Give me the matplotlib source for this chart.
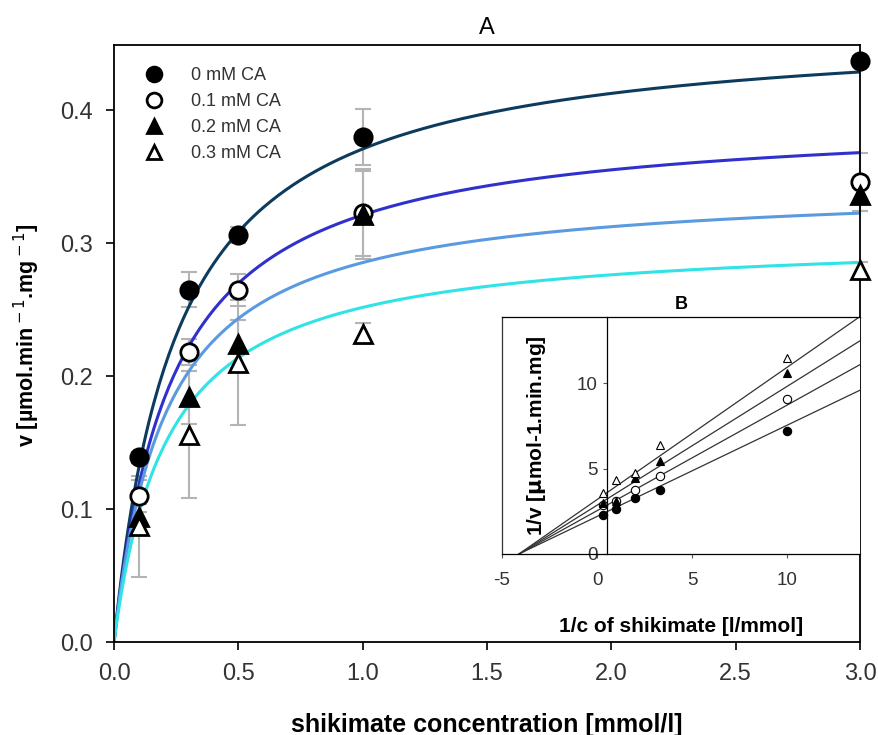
import numpy as np
import matplotlib.pyplot as plt

plt.rcParams['font.family'] = ['Liberation Sans', 'DejaVu Sans']
plt.rcParams['axes.unicode_minus'] = False

# shikimate concentration [mmol/l]
shikimate = np.array([0.1, 0.3, 0.5, 1.0, 3.0])
labels = ['0 mM CA', '0.1 mM CA', '0.2 mM CA', '0.3 mM CA']

# measured rates v [umol/min/mg]
v_0 = np.array([0.139, 0.265, 0.306, 0.380, 0.437])
v_01 = np.array([0.110, 0.218, 0.265, 0.323, 0.346])
v_02 = np.array([0.094, 0.184, 0.224, 0.321, 0.336])
v_03 = np.array([0.087, 0.156, 0.210, 0.232, 0.280])

# standard deviations
err_0 = [0.004, 0.013, 0.006, 0.021, 0.004]
err_01 = [0.012, 0.010, 0.012, 0.033, 0.022]
err_02 = [0.010, 0.020, 0.018, 0.033, 0.012]
err_03 = [0.038, 0.048, 0.047, 0.008, 0.006]

# michaelis-menten fit parameters
vmax = [0.465, 0.397, 0.345, 0.306]
km = [0.254, 0.236, 0.209, 0.216]

# lineweaver-burk regression lines (slope, intercept)
lb_slope = [0.536, 0.620, 0.698, 0.777]
lb_intercept = [2.20, 2.54, 2.86, 3.19]

rates = [v_0, v_01, v_02, v_03]
errors = [err_0, err_01, err_02, err_03]
curve_colors = ['#0c3b5e', '#3030cc', '#5a9ae0', '#2fe3e6']
markers = ['o', 'o', '^', '^']
faces = ['black', 'white', 'black', 'white']

fig = plt.figure(figsize=(8.79, 7.35), dpi=100)
ax = fig.add_axes([0.1297, 0.1265, 0.8487, 0.8123])

# error bars
for v, e in zip(rates, errors):
    ax.errorbar(shikimate, v, yerr=e, fmt='none', ecolor='#b4b4b4',
                elinewidth=1.5, capsize=5.5, capthick=1.5, zorder=1, clip_on=False)

# fitted curves
s = np.linspace(0, 3.0, 300)
for vm, k, c in zip(vmax, km, curve_colors):
    ax.plot(s, vm * s / (k + s), color=c, lw=2.2, zorder=2)

# data points
for v, m, f, lab in zip(rates, markers, faces, labels):
    ax.plot(shikimate, v, linestyle='none', marker=m, markersize=12.5,
            markerfacecolor=f, markeredgecolor='black', markeredgewidth=2,
            label=lab, zorder=3, clip_on=False)

ax.set_xlim(0, 3.0)
ax.set_ylim(0, 0.449)
ax.set_xticks(np.arange(0, 3.01, 0.5))
ax.set_xticklabels(['0.0', '0.5', '1.0', '1.5', '2.0', '2.5', '3.0'])
ax.set_yticks([0, 0.1, 0.2, 0.3, 0.4])
ax.set_yticklabels(['0.0', '0.1', '0.2', '0.3', '0.4'])
ax.tick_params(labelsize=17, length=6, width=1.2, colors='black', labelcolor='#333333', pad=9)
for sp in ax.spines.values():
    sp.set_linewidth(1.3)
ax.set_title('A', fontsize=17, pad=8)
ax.set_xlabel('shikimate concentration [mmol/l]', fontsize=18, fontweight='bold', labelpad=20)
ax.set_ylabel(r'v [µmol.min$^{\rm -1}$.mg$^{\rm -1}$]', fontsize=15.5, fontweight='bold')
ax.yaxis.set_label_coords(-0.097, 0.514)
ax.legend(loc='upper left', bbox_to_anchor=(0.012, 0.99), frameon=False, fontsize=13,
          handlelength=1.6, handletextpad=1.25, labelspacing=0.5, markerscale=0.85,
          labelcolor='#333333')

# inset B: lineweaver-burk plot
axb = fig.add_axes([0.571, 0.2463, 0.407, 0.3224])
inv_c = 1 / shikimate
for v, m, f in zip(rates, markers, faces):
    axb.plot(inv_c, 1 / v, linestyle='none', marker=m, markersize=6,
             markerfacecolor=f, markeredgecolor='black', markeredgewidth=0.8, zorder=3)
xr = 13.8
for m, b in zip(lb_slope, lb_intercept):
    x0 = -b / m
    axb.plot([x0, xr], [0, m * xr + b], color='#333333', lw=0.9, zorder=2)

axb.set_xlim(-5, xr)
axb.set_ylim(0, 13.9)
axb.spines['left'].set_position(('data', 0.5))
axb.spines['left'].set_linewidth(0.9)
axb.spines['bottom'].set_linewidth(0.9)
axb.spines['top'].set_linewidth(0.9)
axb.spines['right'].set_visible(False)
axb.plot([0, 0], [0, 1], transform=axb.transAxes, color='#333333', lw=0.9, clip_on=False)
axb.set_xticks([-5, 0, 5, 10])
axb.set_yticks([0, 5, 10])
axb.tick_params(labelsize=13.5, length=3, width=0.8, labelcolor='#333333', color='#555555')
axb.tick_params(axis='x', pad=10)
axb.set_title('B', fontsize=13, fontweight='bold', pad=6)
axb.set_xlabel('1/c of shikimate [l/mmol]', fontsize=15, fontweight='bold', labelpad=20)
axb.set_ylabel(r'1/v [$\mathbf{\mu}$mol-1.min.mg]', fontsize=15, fontweight='bold')
axb.yaxis.set_label_coords(0.128, 0.5)

fig.savefig('out.png', dpi=100)
